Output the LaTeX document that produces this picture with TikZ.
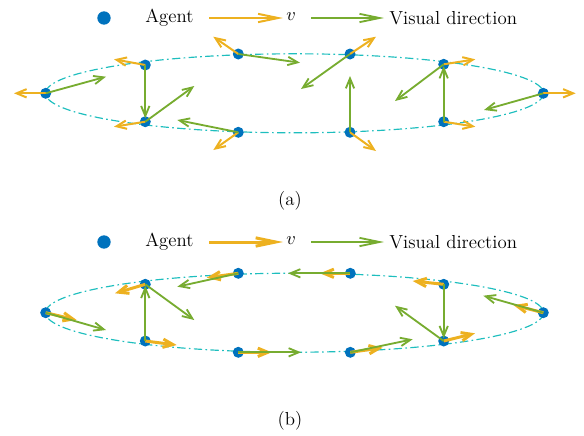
\documentclass[tikz,border=0pt]{standalone}
\usetikzlibrary{arrows.meta}
\definecolor{agentblue}{RGB}{0,114,189}
\definecolor{vorange}{RGB}{237,177,32}
\definecolor{vgreen}{RGB}{119,172,48}
\definecolor{ellcyan}{RGB}{30,190,190}
\begin{document}
\begin{tikzpicture}[x=0.6pt,y=-0.6pt,
  agent/.style={circle, fill=agentblue, inner sep=0pt, minimum size=6.6pt},
  legdot/.style={circle, fill=agentblue, inner sep=0pt, minimum size=8pt},
  varrA/.style={draw=vorange, line width=1.2pt, -{Straight Barb[length=6pt,width=5pt]}},
  varrB/.style={draw=vorange, line width=1.8pt, -{Straight Barb[length=6pt,width=5pt]}},
  garr/.style={draw=vgreen, line width=1.1pt, -{Straight Barb[length=6pt,width=5pt]}},
  legv/.style={draw=vorange, line width=1.2pt, -{Straight Barb[length=12pt,width=5pt]}},
  legvB/.style={draw=vorange, line width=1.8pt, -{Straight Barb[length=12pt,width=5pt]}},
  legg/.style={draw=vgreen, line width=1.1pt, -{Straight Barb[length=12pt,width=5pt]}},
  ell/.style={draw=ellcyan, line width=0.7pt, dash pattern=on 5pt off 2pt on 1pt off 2pt},
  txt/.style={font=\fontsize{11.3}{13}\selectfont, inner sep=0pt}]
\useasboundingbox (0,0) rectangle (584,435);

% ---------------- panel (a) ----------------
\node[legdot] (la) at (104,18) {};
\node[txt, anchor=west] (lat) at (145,18) {Agent};
\node[txt] (lav) at (291,17) {$v$};
\node[txt, anchor=west] (lag) at (389,18) {Visual direction};
\coordinate (lvs) at (209,18); \coordinate (lve) at (283,18);
\coordinate (lgs) at (311,18); \coordinate (lge) at (384,18);
\draw[legv] (lvs) -- (lve);
\draw[legg] (lgs) -- (lge);

\draw[ell] (294.5,93.3) ellipse [x radius=249, y radius=39.5];

\foreach \n/\x/\y/\ox/\oy/\gx/\gy in {
  1/45.7/93.3/14/93.3/106/76.7,
  2/145.3/65/114/59.3/145.3/118.3,
  3/145.3/121.7/114/126.7/194.3/86,
  4/238.3/54/213.3/36.7/300/62.7,
  5/238.3/132.3/213.3/150/177.3/120,
  6/350/54/376/36.7/301/89,
  7/350/132.3/376/151/350/76,
  8/443.7/64.3/475.3/59.3/395/101,
  9/443.7/121.7/475.3/126.7/443.7/66,
  10/543.3/93.3/575.7/93.3/484/110}{
  \node[agent] (a\n) at (\x,\y) {};
  \coordinate (a\n o) at (\ox,\oy);
  \coordinate (a\n g) at (\gx,\gy);
}
\foreach \n in {1,...,10}{
  \draw[varrA] (a\n.center) -- (a\n o);
  \draw[garr] (a\n.center) -- (a\n g);
}
\node[txt] (capa) at (290,201) {(a)};

% ---------------- panel (b) ----------------
\node[legdot] (lb) at (104,242) {};
\node[txt, anchor=west] (lbt) at (145,242) {Agent};
\node[txt] (lbv) at (291,241) {$v$};
\node[txt, anchor=west] (lbg) at (389,242) {Visual direction};
\coordinate (mvs) at (209,242); \coordinate (mve) at (283,242);
\coordinate (mgs) at (311,242); \coordinate (mge) at (384,242);
\draw[legvB] (mvs) -- (mve);
\draw[legg] (mgs) -- (mge);

\draw[ell] (294.5,312.7) ellipse [x radius=249, y radius=39.5];

\foreach \n/\x/\y/\ox/\oy/\gx/\gy in {
  1/45.7/312.7/76.7/320/106/330,
  2/145.3/284.3/115/293.3/194.3/320,
  3/145.3/341/176.7/345/145.3/285.7,
  4/238.3/273.3/206.7/277.7/177.3/286.7,
  5/238.3/352.3/271.7/352.3/301/352.3,
  6/350.3/273.3/320/273.3/288/273.3,
  7/350.3/352.3/382.7/347.7/412.7/339.3,
  8/443.7/284.3/412.7/281/443.7/338.3,
  9/443.7/341/475/333.3/395/305.7,
  10/543.3/312.7/513.3/305/483.3/295.7}{
  \node[agent] (b\n) at (\x,\y) {};
  \coordinate (b\n o) at (\ox,\oy);
  \coordinate (b\n g) at (\gx,\gy);
}
\foreach \n in {1,...,10}{
  \draw[varrB] (b\n.center) -- (b\n o);
  \draw[garr] (b\n.center) -- (b\n g);
}
\node[txt] (capb) at (290,421) {(b)};
\end{tikzpicture}
\end{document}
